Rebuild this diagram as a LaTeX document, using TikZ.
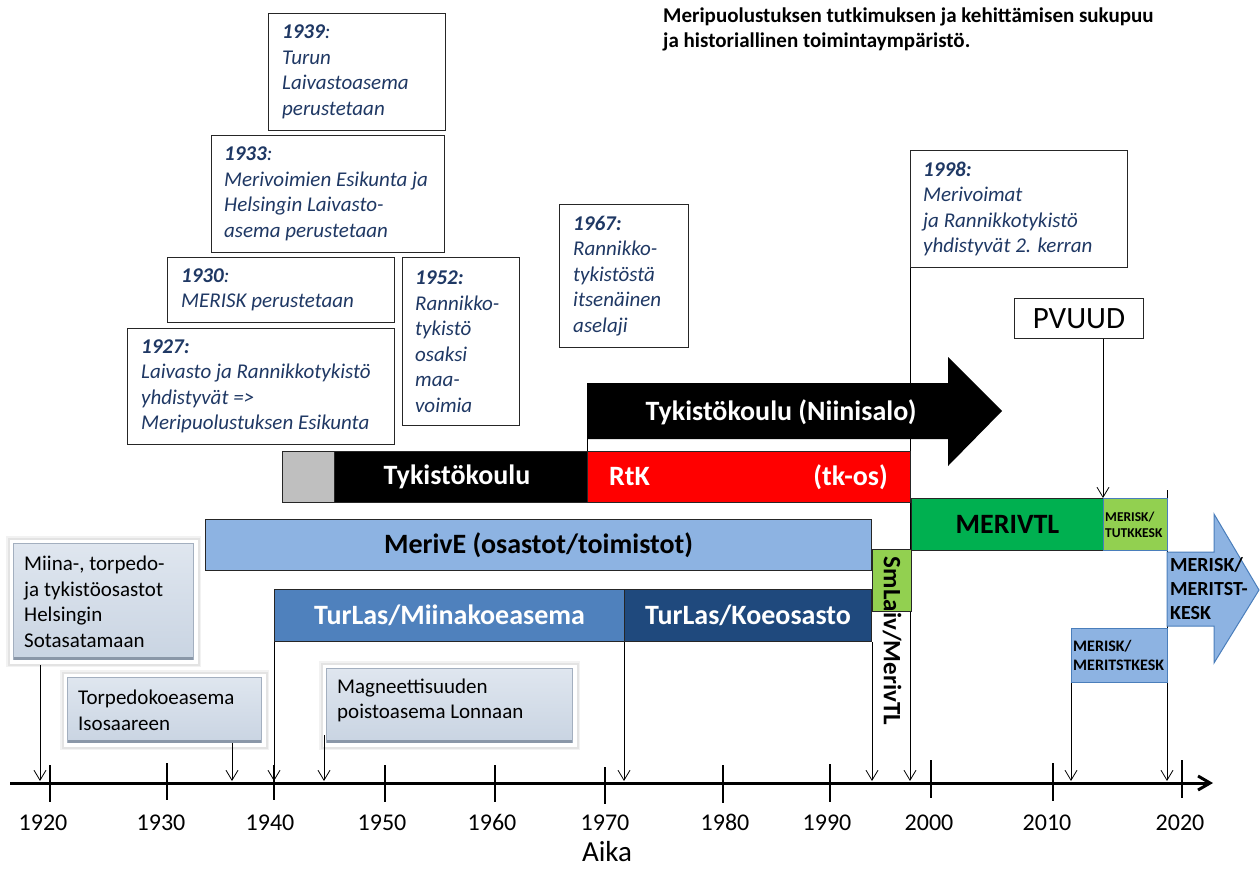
\documentclass[tikz,border=0pt]{standalone}
\usepackage{fontspec}
\setmainfont{Carlito}[Numbers=Lining]
\usetikzlibrary{arrows.meta}
\definecolor{navy}{HTML}{1F3864}
\definecolor{gbar}{HTML}{BFBFBF}
\definecolor{rbar}{HTML}{FF0000}
\definecolor{lblue}{HTML}{8DB3E2}
\definecolor{mblue}{HTML}{4F81BD}
\definecolor{dblue}{HTML}{1F497D}
\definecolor{lgreen}{HTML}{92D050}
\definecolor{dgreen}{HTML}{00B050}
\definecolor{cfTop}{HTML}{DFE6EF}
\definecolor{cfBot}{HTML}{C9D4E2}
\definecolor{callline}{HTML}{A3AFBF}
\definecolor{callbot}{HTML}{8A97A8}
\definecolor{arrline}{HTML}{4A7EBB}
\begin{document}
\begin{tikzpicture}[x=1pt,y=-1pt,
  evbox/.style={draw=black!85, line width=0.9pt, fill=white, inner sep=0pt, anchor=north west},
  evtext/.style={anchor=west, align=left, inner sep=0pt, text=navy, font=\fontsize{21}{25.5}\selectfont\itshape},
  callout/.style={inner sep=0pt, anchor=north west, top color=cfTop, bottom color=cfBot, draw=callline, line width=1.2pt,
     preaction={draw=black!5, line width=15pt},
     preaction={draw=black!11, line width=12pt},
     preaction={draw=white, line width=8pt}},
  calledge/.style={draw=callbot, line width=3pt},
  calltext/.style={anchor=west, align=left, inner sep=0pt, font=\fontsize{21}{25.5}\selectfont},
  bar/.style={draw=black!85, line width=1pt, inner sep=0pt, anchor=north west},
  bartext/.style={font=\fontsize{28}{30}\selectfont\bfseries, inner sep=0pt},
  conn/.style={draw=black, line width=0.8pt, -{Straight Barb[length=10pt,width=12pt,line width=0.8pt]}},
  tickmark/.style={line width=1.4pt},
  yr/.style={font=\fontsize{24}{26}\selectfont, inner sep=0pt, anchor=base},
]
\useasboundingbox[fill=white] (0,0) rectangle (1260,870);

% title
\node[anchor=west, align=left, inner sep=0pt, font=\fontsize{21}{25}\selectfont\bfseries] (title) at (663,29.5)
  {Meripuolustuksen tutkimuksen ja kehittämisen sukupuu\\ja historiallinen toimintaympäristö.};

% axis coordinates
\coordinate (axs) at (10,783);
\coordinate (axe) at (1213,783);
\foreach \n/\x in {a1/40,a2/232,a3/324,a4/274,a5/624,a6/872,a7/910,a9/1071,a10/1167}
  \coordinate (\n) at (\x,781);
\coordinate (c10) at (1167,490);
\coordinate (arrL) at (587,439);

% event boxes
\node[evbox, minimum width=177pt, minimum height=117pt] (b1939) at (268,13) {};
\node[evtext] (t1939) at ([xshift=14pt]b1939.west) {\textbf{1939}:\\Turun\\Laivastoasema\\perustetaan};
\node[evbox, minimum width=233pt, minimum height=117pt] (b1933) at (211,135) {};
\node[evtext] (t1933) at ([xshift=13pt]b1933.west) {\textbf{1933}:\\Merivoimien Esikunta ja\\Helsingin Laivasto-\\asema perustetaan};
\node[evbox, minimum width=227pt, minimum height=65pt] (b1930) at (167,257) {};
\node[evtext] (t1930) at ([xshift=14pt]b1930.west) {\textbf{1930}:\\MERISK perustetaan};
\node[evbox, minimum width=267pt, minimum height=116pt] (b1927) at (127,328) {};
\node[evtext] (t1927) at ([xshift=14pt]b1927.west) {\textbf{1927:}\\Laivasto ja Rannikkotykistö\\yhdistyvät =>\\Meripuolustuksen Esikunta};
\node[evbox, minimum width=117pt, minimum height=168pt] (b1952) at (402,257) {};
\node[evtext] (t1952) at ([xshift=13pt]b1952.west) {\textbf{1952:}\\Rannikko-\\tykistö\\osaksi\\maa-\\voimia};
\node[evbox, minimum width=129pt, minimum height=143pt] (b1967) at (559,204) {};
\node[evtext] (t1967) at ([xshift=14pt]b1967.west) {\textbf{1967:}\\Rannikko-\\tykistöstä\\itsenäinen\\aselaji};
\node[evbox, minimum width=217pt, minimum height=117pt] (b1998) at (910,150) {};
\node[evtext] (t1998) at ([xshift=13pt]b1998.west) {\textbf{1998:}\\Merivoimat\\ja Rannikkotykistö\\yhdistyvät 2. kerran};

\node[evbox, minimum width=129pt, minimum height=40pt] (pvuud) at (1014,298) {};
\node[inner sep=0pt, font=\fontsize{31}{33}\selectfont] (tpvuud) at (pvuud.center) {PVUUD};

% long background connectors
\draw[conn] (b1998.south west) -- (a7);
\draw[conn] (c10) -- (a10);

% black arrow
\fill[black] (arrL) -- (587,383) -- (948,383) -- (948,357) -- (1002,411) -- (948,466) -- (948,439) -- cycle;
\node[bartext, text=white] (tnii) at (781,412) {Tykistökoulu (Niinisalo)};

% bars
\node[bar, fill=gbar, minimum width=52pt, minimum height=51pt] (gray) at (282,451) {};
\node[bar, fill=black, minimum width=253pt, minimum height=51pt] (tyk) at (334,451) {};
\node[bartext, text=white] (ttyk) at (457,477) {Tykistökoulu};
\node[bar, fill=rbar, minimum width=323pt, minimum height=51pt] (rtk) at (587,451) {};
\node[bartext, text=white, anchor=west] (trtk) at (609,477) {RtK};
\node[bartext, text=white, anchor=east] (ttkos) at (888,477) {(tk-os)};
\draw[line width=0.8pt] (arrL) -- (rtk.north west);

\node[bar, fill=lblue, minimum width=666pt, minimum height=51pt] (merive) at (205,519) {};
\node[bartext] (tmerive) at (merive.center) {MerivE (osastot/toimistot)};

\node[bar, fill=mblue, minimum width=350pt, minimum height=52pt] (miina) at (274,589) {};
\node[bartext, text=white] (tmiina) at (miina.center) {TurLas/Miinakoeasema};
\node[bar, fill=dblue, minimum width=247pt, minimum height=52pt] (koe) at (624,589) {};
\node[bartext, text=white] (tkoe) at (koe.center) {TurLas/Koeosasto};

\node[bar, fill=lgreen, minimum width=39pt, minimum height=62pt] (smlaiv) at (872,549) {};
\node[inner sep=0pt, rotate=-90, font=\fontsize{25}{27}\selectfont\bfseries] (tsmlaiv) at (892,641) {SmLaiv/MerivTL};

\node[bar, fill=dgreen, minimum width=192pt, minimum height=52pt] (merivtl) at (911,498) {};
\node[bartext] (tmerivtl) at (merivtl.center) {MERIVTL};
\node[bar, fill=lgreen, draw=arrline, minimum width=64pt, minimum height=52pt] (tutk) at (1103,498) {};
\node[anchor=west, align=left, inner sep=0pt, font=\fontsize{13.5}{16}\selectfont\bfseries] (ttutk) at (1105,525) {MERISK/\\TUTKKESK};

\node[bar, fill=lblue, draw=arrline, minimum width=96pt, minimum height=54pt] (meritst) at (1071,628) {};
\node[anchor=west, align=left, inner sep=0pt, font=\fontsize{16}{19}\selectfont\bfseries] (tmeritst) at (1073,655) {MERISK/\\MERITSTKESK};

% big blue arrow
\filldraw[fill=lblue, draw=arrline, line width=1pt] (1167,552) -- (1214,552) -- (1214,514) -- (1259,590) -- (1214,663) -- (1214,626) -- (1167,626) -- cycle;
\node[anchor=west, align=left, inner sep=0pt, font=\fontsize{20}{24}\selectfont\bfseries] (tbig) at (1170,589) {MERISK/\\MERITST-\\KESK};

% callouts
\node[callout, minimum width=180pt, minimum height=116pt] (cmiina) at (13,543) {};
\draw[calledge] ([xshift=1pt,yshift=2pt]cmiina.south west) -- ([xshift=-1pt,yshift=2pt]cmiina.south east);
\node[calltext] (tcmiina) at ([xshift=11pt]cmiina.west) {Miina-, torpedo-\\ja tykistöosastot\\Helsingin\\Sotasatamaan};

\node[callout, minimum width=194pt, minimum height=65pt] (ctorp) at (67,677) {};
\draw[calledge] ([xshift=1pt,yshift=2pt]ctorp.south west) -- ([xshift=-1pt,yshift=2pt]ctorp.south east);
\node[calltext] (tctorp) at ([xshift=11pt]ctorp.west) {Torpedokoeasema\\Isosaareen};

\node[callout, minimum width=246pt, minimum height=74pt] (cmagn) at (326,668) {};
\draw[calledge] ([xshift=1pt,yshift=2pt]cmagn.south west) -- ([xshift=-1pt,yshift=2pt]cmagn.south east);
\node[calltext] (tcmagn) at ([xshift=11pt,yshift=5pt]cmagn.west) {Magneettisuuden\\poistoasema Lonnaan};

% connectors
\draw[conn] ([yshift=-5pt]cmiina.south -| a1) -- (a1);
\draw[conn] (ctorp.south -| a2) -- (a2);
\draw[conn] ([yshift=8pt]cmagn.south -| a3) -- (a3);
\draw[conn] (miina.south west) -- (a4);
\draw[conn] (koe.south west) -- (a5);
\draw[conn] (koe.south east) -- (a6);
\draw[conn] (meritst.south west) -- (a9);
\draw[conn] (pvuud.south -| tutk.north west) -- (tutk.north west);

% axis
\draw[line width=3pt, -{Straight Barb[length=12pt,width=14pt]}] (axs) -- (axe);
\foreach \yr/\x/\lx/\ya/\yb in {1920/50/43/765/802, 1930/167/161/763/800, 1940/274/270/765/800,
   1950/385/382/765/802, 1960/495/492/765/802, 1970/605/605/767/804, 1980/723/725/765/803,
   1990/830/827/764/802, 2000/931/929/760/798, 2010/1053/1047/763/801, 2020/1182/1180/760/798}{
  \draw[tickmark] (\x,\ya) -- (\x,\yb);
  \node[yr] (y\yr) at (\lx,830) {\yr};
}
\node[inner sep=0pt, anchor=base, font=\fontsize{29}{31}\selectfont] (aika) at (607,861) {Aika};
\end{tikzpicture}
\end{document}
